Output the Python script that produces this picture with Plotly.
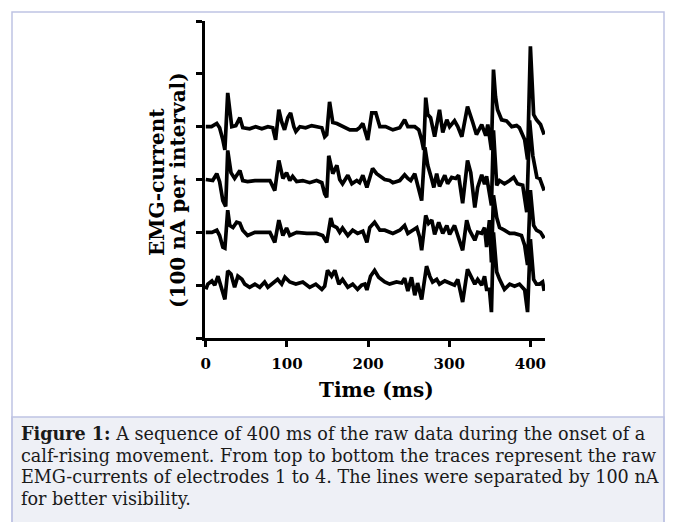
import plotly.graph_objects as go

# ---- data (time in ms, EMG current deviation in nA) ----
offsets = [400, 300, 200, 100]  # traces separated by 100 nA

t1 = [0, 7, 13.5, 17, 21, 23.5, 27, 29.5, 32, 37, 42, 45.5, 54, 61.5, 69, 76.5, 82.5, 86, 90, 93.5,
      97, 101, 104.5, 108.5, 111, 116, 123, 130.5, 138, 143, 146.5, 149, 152.5, 156.5, 161.5, 168.5,
      177.5, 186, 189.5, 193.5, 197, 199.5, 204.5, 209.5, 214.5, 221.5, 230.5, 239, 245, 249, 257.5,
      262.5, 266, 268.5, 271, 273.5, 277, 282, 288, 292, 297, 300.5, 306.5, 310.5, 315.5, 322.5, 329,
      333.5, 340, 345, 347.5, 352, 354.5, 357, 359.5, 364.5, 370.5, 377, 383, 386.5, 393, 396.5, 400,
      404, 407.5, 412.5, 417]
v1 = [0, 0, 6, -2, -25, -44, 64, 32, 0, 2, 17, -2, -4, 0, -4, 0, -2, -25, 32, 9,
      -6, 17, 26, 0, -9, 0, -2, 2, 0, -2, -19, -15, 47, 8, 6, 0,
      -6, -6, -2, 6, -13, -25, 26, 26, 0, 0, -6, -2, 13, 0, 0,
      -6, -25, -44, 55, 23, 17, -19, 32, -11, 13, 0, 11, 0, -19, 38, 8,
      -15, 4, -17, 4, -44, 108, 57, 32, 13, 11, 0, 2, -2, -25, -62, 152,
      23, 13, 4, -15]

t2 = [0, 8.5, 13.5, 17, 21, 24.5, 27, 31, 35.5, 42, 45.5, 51.5, 60.5, 72.5, 79, 85, 90, 95, 99.5,
      103.5, 107, 112, 119.5, 128, 136.5, 143, 146.5, 149, 151.5, 156.5, 161.5, 165, 168.5, 175, 180,
      186, 189.5, 193.5, 198.5, 203, 205.5, 210.5, 214.5, 220.5, 226.5, 230.5, 239, 245, 249, 252.5,
      257.5, 261, 266, 270, 273.5, 278.5, 281, 284.5, 288, 294.5, 298, 303, 308, 311.5, 316.5, 322.5,
      326.5, 331.5, 335, 340, 343.5, 346, 349.5, 352, 354.5, 358.5, 362, 368, 374.5, 379.5, 384, 390.5,
      395.5, 399, 403, 408, 411.5, 415, 417]
v2 = [0, -2, 11, -4, -40, -51, 55, 13, 2, 17, -2, -4, -2, -2, -2, -21, 36, 2, 13,
      -2, 6, -4, -2, -6, -2, -6, -27, -34, 45, 11, 27, 0, -8, 8, -8,
      -2, -6, 8, -15, 8, 21, 11, 6, 0, -2, -6, -2, 9, 2, -2,
      11, -8, -40, 61, 27, 0, -15, 11, -13, 8, -8, 4, 2, 8, -45, 36,
      13, -53, -15, 9, -9, 6, -27, -49, 93, -11, -2, -8, -2, 4, -8, -11,
      -62, 112, 45, 4, 2, -13, -21]

t3 = [0, 7.5, 13.5, 17, 21, 23.5, 27, 29.5, 33.5, 38, 42, 45.5, 51.5, 60.5, 72.5, 79, 85, 90, 95,
      99.5, 103.5, 112, 124.5, 136.5, 144, 149, 154, 156.5, 161.5, 165, 168.5, 175, 181, 187, 193.5,
      198.5, 202, 208, 214.5, 220.5, 230.5, 239, 245, 249, 255, 260, 263.5, 266, 271, 274.5, 278.5,
      282, 287, 292, 297, 300.5, 306.5, 310.5, 316.5, 321.5, 325, 331.5, 335, 340, 343.5, 346, 349.5,
      352, 354.5, 358.5, 362, 368, 374.5, 380.5, 389, 393, 396.5, 400, 404, 407.5, 412.5, 417]
v3 = [0, 0, 4, -6, -28, -30, 42, 13, 9, 19, 17, 4, -6, 0, 0, 0, -19, 23, -6,
      8, -6, 0, -2, -2, -6, -19, 27, 13, 9, 0, 8, -6, 4, -2, 2,
      -19, 9, 19, 4, 4, -2, 4, 13, -2, 4, 9, -9, -34, 32, 17, 23,
      -4, 19, -2, 13, -4, 13, -6, -34, 23, 4, -15, 0, -2, 9, -28, 23,
      -57, 70, 28, 9, 4, -2, -2, -6, -25, -62, 80, 13, 4, 0, -11]

t4 = [0, 2.5, 7.5, 11, 15, 18.5, 23.5, 27, 31, 35.5, 39.5, 44.5, 48, 54, 60.5, 66.5, 72.5, 76.5,
      81.5, 85, 88.5, 93.5, 97.5, 103.5, 111, 119.5, 128, 135.5, 143, 146.5, 150, 155, 159, 164,
      168.5, 175, 181, 187, 192, 196, 198.5, 203, 208, 213, 220.5, 226.5, 235, 241.5, 245, 249,
      253.5, 257.5, 261, 266, 272, 276, 279.5, 284.5, 288, 294.5, 300.5, 306.5, 310.5, 316.5, 322.5,
      327.5, 331.5, 335, 340, 343.5, 346, 349.5, 352, 354.5, 358.5, 362, 368, 374.5, 380.5, 386.5,
      393, 396.5, 400, 404, 407.5, 411.5, 415, 417]
v4 = [-8, 2, 8, 0, 17, -2, -27, 27, 21, -4, 17, 11, 2, -4, 2, -4, 6, -4,
      2, 6, 11, 2, 15, 6, 2, 6, -4, 2, -8, -2, 28, 17, 28, 2,
      11, -4, 2, -8, 0, 2, -9, 17, 28, 15, 6, 2, 6, 4, 13, -11,
      15, -19, 4, -27, 36, 17, 6, 11, 2, 8, 4, 0, 11, -32, 30,
      13, 2, 11, 0, 17, -8, -8, -51, 100, 25, 11, -8, 2, -2, 2,
      -9, -51, 87, 11, 2, 2, 6, -11]

times = [t1, t2, t3, t4]
values = [v1, v2, v3, v4]

x_ticks = [0, 100, 200, 300, 400]
y_ticks = [0, 100, 200, 300, 400, 500, 600]

x_title = "Time (ms)"
y_title_1 = "EMG-current"
y_title_2 = "(100 nA per interval)"
caption_lines = [
    "<b>Figure 1:</b> A sequence of 400 ms of the raw data during the onset of a",
    "calf-rising movement. From top to bottom the traces represent the raw",
    "EMG-currents of electrodes 1 to 4. The lines were separated by 100 nA",
    "for better visibility.",
]

# ---- figure ----
fig = go.Figure()
for t, v, off in zip(times, values, offsets):
    fig.add_trace(go.Scatter(
        x=t, y=[off + d for d in v], mode="lines",
        line=dict(color="black", width=3.7),
        showlegend=False, hoverinfo="skip",
    ))

L, R, T, B = 205, 130, 21, 184
W, H = 675, 522
pw, ph = W - L - R, H - T - B


def px(xp):
    return (xp - L) / pw


def py(yp):
    return (H - B - yp) / ph


axis_font = dict(family="DejaVu Serif", size=15, color="black")
title_font = dict(family="DejaVu Serif", size=20, color="black")

fig.update_layout(
    width=W, height=H,
    margin=dict(l=L, r=R, t=T, b=B, pad=0),
    paper_bgcolor="white", plot_bgcolor="white",
    xaxis=dict(
        range=[-1, 418], tickvals=x_ticks, ticktext=[f"<b>{v}</b>" for v in x_ticks],
        showline=True, linecolor="black", linewidth=2.5,
        ticks="outside", ticklen=6, tickwidth=2.5, tickcolor="black",
        showgrid=False, zeroline=False, tickfont=axis_font, ticklabelstandoff=4,
    ),
    yaxis=dict(
        range=[0, 600], tickvals=y_ticks, showticklabels=False,
        showline=True, linecolor="black", linewidth=2.5,
        ticks="outside", ticklen=6, tickwidth=2.5, tickcolor="black",
        showgrid=False, zeroline=False,
    ),
    shapes=[
        dict(type="rect", xref="paper", yref="paper",
             x0=px(12), x1=px(664), y0=py(530), y1=py(417),
             fillcolor="#eef0f6", line=dict(color="#bfc3e4", width=1.5), layer="below"),
        dict(type="rect", xref="paper", yref="paper",
             x0=px(12), x1=px(664), y0=py(530), y1=py(12),
             fillcolor="rgba(0,0,0,0)", line=dict(color="#bfc3e4", width=1.5), layer="below"),
    ],
)

annos = [
    dict(text=f"<b>{x_title}</b>", x=px(376), y=py(390), font=title_font),
    dict(text=f"<b>{y_title_1}</b>", x=px(157), y=py(182), textangle=-90, font=title_font),
    dict(text=f"<b>{y_title_2}</b>", x=px(178), y=py(190), textangle=-90, font=title_font),
]
for a in annos:
    a.update(xref="paper", yref="paper", showarrow=False, xanchor="center", yanchor="middle")
    fig.add_annotation(**a)

cap_y = [434, 456, 477, 499]
for line, yy in zip(caption_lines, cap_y):
    fig.add_annotation(text=line, x=px(19), y=py(yy), xref="paper", yref="paper",
                       showarrow=False, xanchor="left", yanchor="middle",
                       font=dict(family="DejaVu Serif", size=17.6, color="#1a1a1a"))

fig.write_html("out.html", config={"displayModeBar": False},
               post_script="document.body.style.margin='0';document.body.style.overflow='hidden';")
